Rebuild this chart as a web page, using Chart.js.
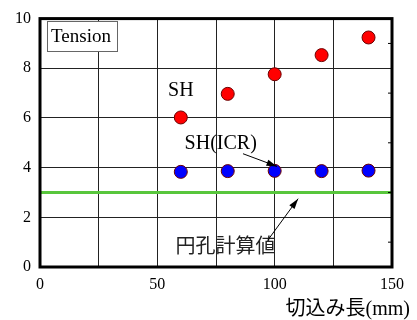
<!DOCTYPE html>
<html>
<head>
<meta charset="utf-8">
<script src="https://cdn.jsdelivr.net/npm/chart.js@4"></script>
<style>
  html, body { margin: 0; padding: 0; background: #fff; }
  #wrap { width: 417px; height: 320px; }
</style>
</head>
<body>
<div id="wrap"><canvas id="myChart" width="417" height="320"></canvas></div>
<script>
// 切込み長 (mm)
const cutLengths = [60, 80, 100, 120, 140];
// SH の値
const shValues = [6.02, 6.97, 7.76, 8.53, 9.24];
// SH(ICR) の値
const shIcrValues = [3.83, 3.86, 3.87, 3.86, 3.88];
// 円孔計算値
const holeCalcValue = 3.0;
const xRange = [0, 150];
const yRange = [0, 10];

const serif = '"Liberation Serif", "Noto Sans CJK JP", serif';

// 矢印を描く
function drawArrow(ctx, x1, y1, x2, y2) {
    const ang = Math.atan2(y2 - y1, x2 - x1);
    ctx.beginPath();
    ctx.moveTo(x1, y1);
    ctx.lineTo(x2, y2);
    ctx.stroke();
    ctx.beginPath();
    ctx.moveTo(x2, y2);
    ctx.lineTo(x2 - 11 * Math.cos(ang - 0.3), y2 - 11 * Math.sin(ang - 0.3));
    ctx.lineTo(x2 - 11 * Math.cos(ang + 0.3), y2 - 11 * Math.sin(ang + 0.3));
    ctx.closePath();
    ctx.fill();
}

// 枠・注記・軸タイトル
const decorations = {
    id: 'decorations',
    afterDraw(chart) {
        const ctx = chart.ctx;
        const a = chart.chartArea;
        const xs = chart.scales.x, ys = chart.scales.y;
        const px = v => xs.getPixelForValue(v);
        const py = v => ys.getPixelForValue(v);
        ctx.save();

        // 枠
        ctx.strokeStyle = '#000';
        ctx.lineWidth = 3;
        ctx.strokeRect(a.left, a.top, a.right - a.left, a.bottom - a.top);

        // 右側の補助目盛
        ctx.lineWidth = 1;
        for (let v = 1; v < yRange[1]; v += 2) {
            ctx.beginPath();
            ctx.moveTo(a.right - 4, py(v));
            ctx.lineTo(a.right, py(v));
            ctx.stroke();
        }

        // Tension ボックス
        ctx.fillStyle = '#fff';
        ctx.fillRect(47, 21, 70, 30);
        ctx.strokeStyle = '#666';
        ctx.lineWidth = 1;
        ctx.strokeRect(47.5, 21.5, 70, 30);
        ctx.fillStyle = '#000';
        ctx.font = '19px ' + serif;
        ctx.textAlign = 'center';
        ctx.textBaseline = 'middle';
        ctx.fillText('Tension', 81, 37);

        // ラベル
        ctx.font = '20px ' + serif;
        ctx.fillText('SH', px(60), py(7.1));
        ctx.fillText('SH(ICR)', px(77), py(4.95));
        ctx.fillStyle = '#222';
        ctx.font = '20px "Noto Sans CJK JP", sans-serif';
        ctx.fillText('円孔計算値', px(79), py(0.85));

        // 矢印
        ctx.strokeStyle = '#000';
        ctx.fillStyle = '#000';
        ctx.lineWidth = 1;
        drawArrow(ctx, px(86.5), py(4.56), px(101), py(4.05));
        drawArrow(ctx, px(97), py(1.07), px(110), py(2.75));

        // 軸タイトル
        ctx.fillStyle = '#000';
        ctx.font = '20px ' + serif;
        ctx.textAlign = 'right';
        ctx.fillText('切込み長(mm)', 410, 310);
        ctx.restore();
    }
};

const ctx = document.getElementById('myChart').getContext('2d');
new Chart(ctx, {
    type: 'scatter',
    data: {
        datasets: [
            {
                label: 'SH',
                data: cutLengths.map((x, i) => ({ x: x, y: shValues[i] })),
                backgroundColor: '#ff0000',
                borderColor: '#6b0000',
                borderWidth: 1,
                pointRadius: 6.5
            },
            {
                label: 'SH(ICR)',
                data: cutLengths.map((x, i) => ({ x: x, y: shIcrValues[i] })),
                backgroundColor: '#0000ff',
                borderColor: '#6b0000',
                borderWidth: 1,
                pointRadius: 6.5
            },
            {
                label: '円孔計算値',
                type: 'line',
                data: xRange.map(x => ({ x: x, y: holeCalcValue })),
                borderColor: '#58c63c',
                borderWidth: 3,
                pointRadius: 0,
                order: 5
            }
        ]
    },
    options: {
        responsive: false,
        animation: false,
        layout: { padding: { top: 15, right: 25, left: 0, bottom: 0 } },
        plugins: { legend: { display: false }, tooltip: { enabled: false } },
        scales: {
            x: {
                type: 'linear',
                min: xRange[0],
                max: xRange[1],
                afterFit: s => { s.height = 53; },
                grid: { color: '#222', lineWidth: 1, drawTicks: false },
                border: { display: false },
                ticks: {
                    stepSize: 25,
                    padding: 8,
                    color: '#000',
                    font: { family: serif, size: 16 },
                    callback: v => (v % 50 === 0 ? v : '')
                }
            },
            y: {
                min: yRange[0],
                max: yRange[1],
                afterFit: s => { s.width = 40; },
                grid: { color: '#222', lineWidth: 1, drawTicks: false },
                border: { display: false },
                ticks: {
                    stepSize: 2,
                    padding: 9,
                    color: '#000',
                    font: { family: serif, size: 16 }
                }
            }
        }
    },
    plugins: [decorations]
});
</script>
</body>
</html>
